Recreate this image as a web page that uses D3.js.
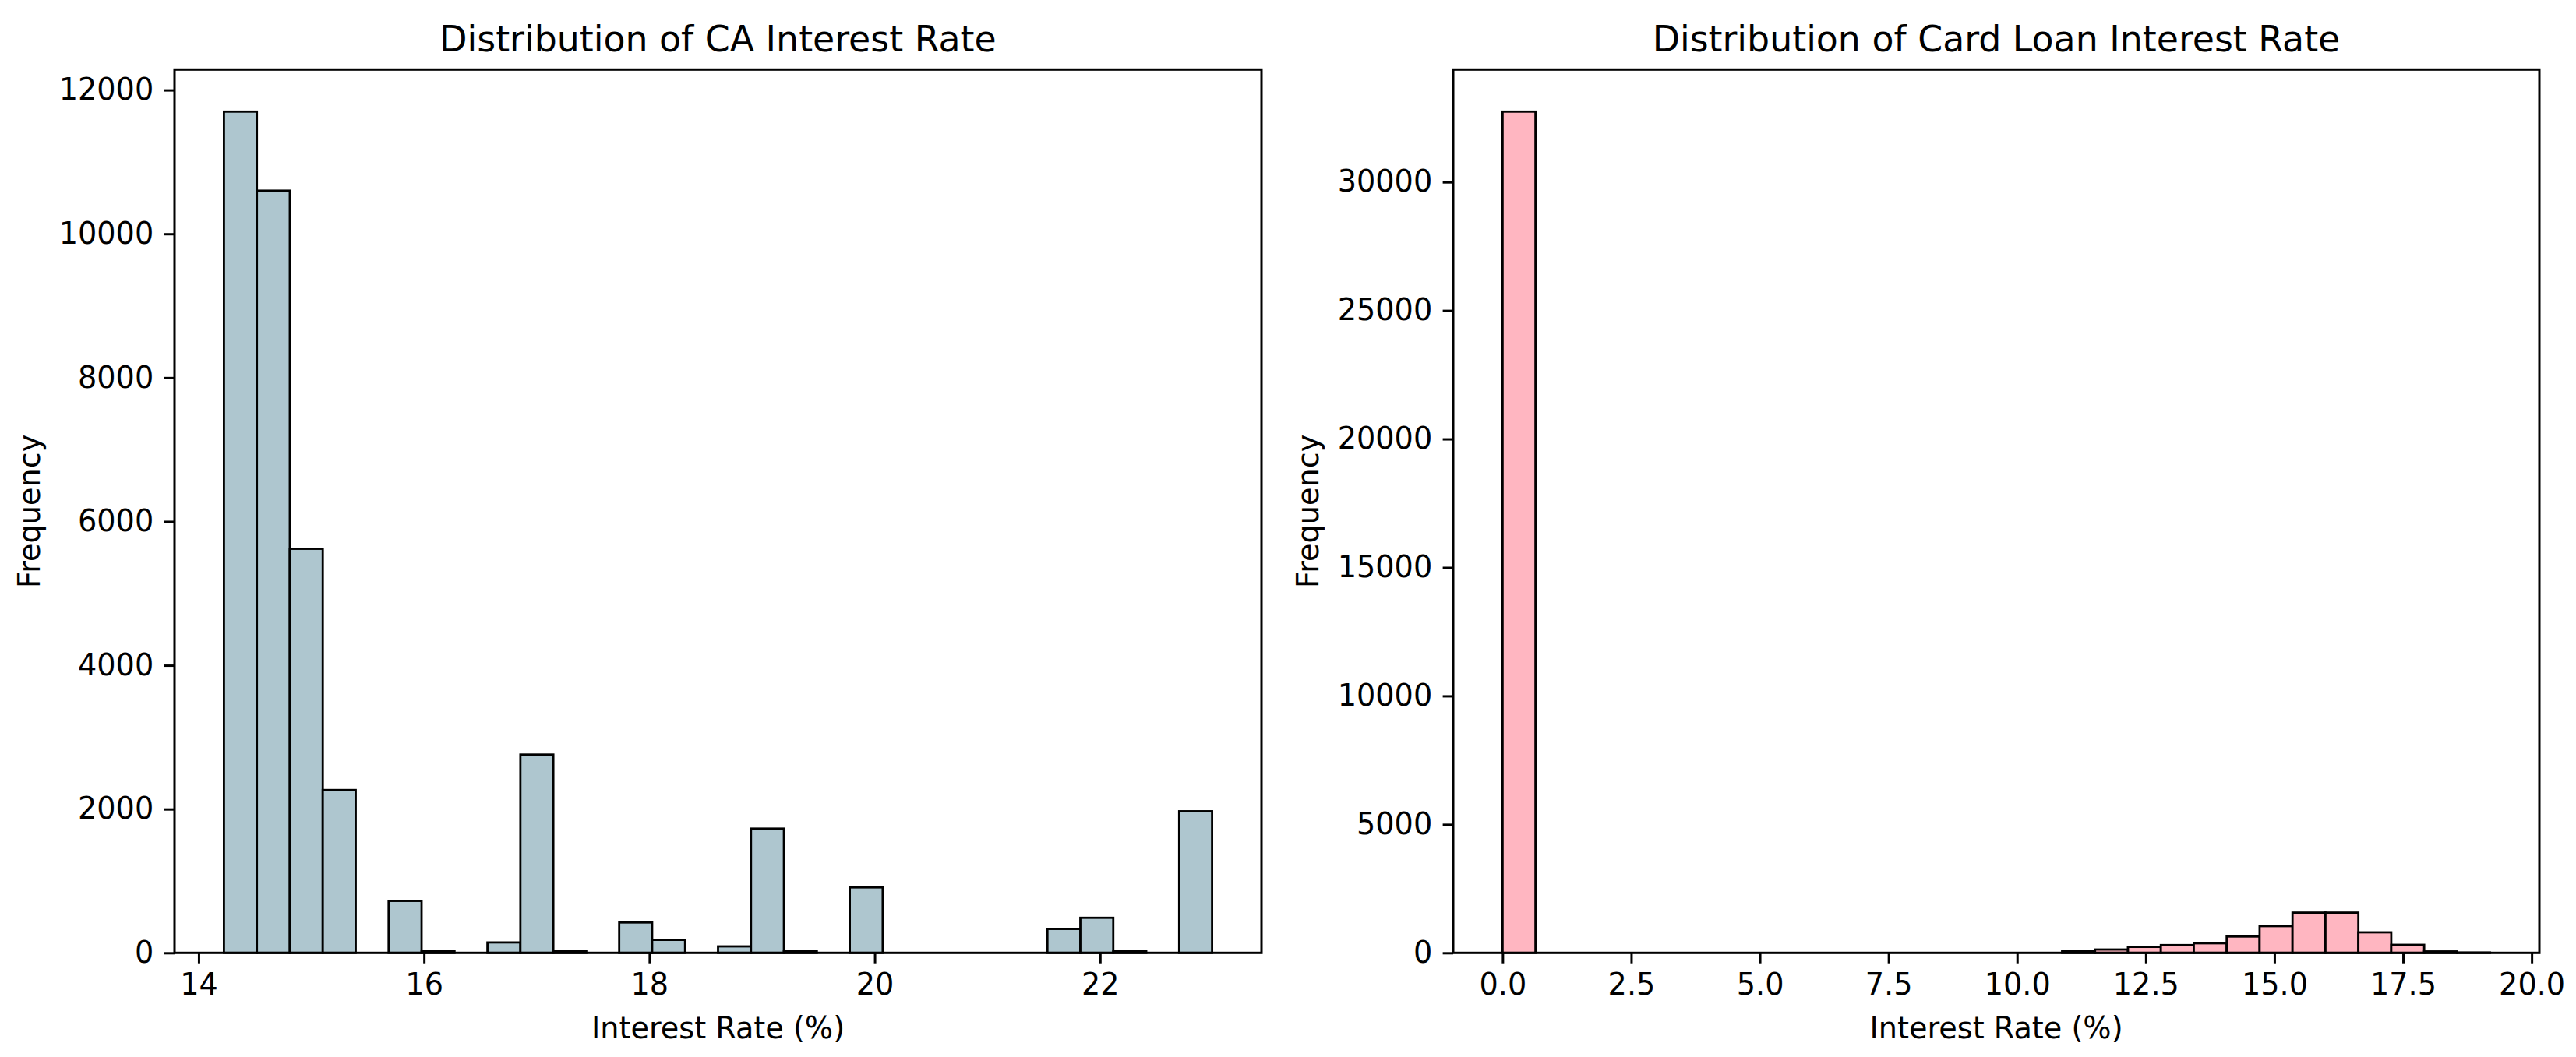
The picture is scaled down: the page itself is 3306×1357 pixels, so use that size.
<!DOCTYPE html>
<html><head><meta charset="utf-8">
<script src="https://cdn.jsdelivr.net/npm/d3@7"></script>
<style>
body{margin:0;background:#fff}
svg{display:block}
text{font-family:"DejaVu Sans",sans-serif;fill:#000}
</style>
</head><body>
<svg id="c" width="3306" height="1357"></svg>
<script>
// ---- data ----
const caTitle = "Distribution of CA Interest Rate";
const cardTitle = "Distribution of Card Loan Interest Rate";
const xLabelText = "Interest Rate (%)";
const yLabelText = "Frequency";

const caRange = [14.2245, 22.9945];
const caCounts = [11700, 10600, 5620, 2265, 0, 723, 25, 0, 145, 2758,
                  25, 0, 423, 181, 0, 90, 1728, 25, 0, 911,
                  0, 0, 0, 0, 0, 333, 488, 25, 0, 1970];
const caXTicks = [14, 16, 18, 20, 22];
const caYTicks = [0, 2000, 4000, 6000, 8000, 10000, 12000];

const cardRange = [0, 19.19];
const cardCounts = [32740, 0, 0, 0, 0, 0, 0, 0, 0, 0,
                    0, 0, 0, 0, 0, 0, 0, 70, 130, 233,
                    303, 374, 637, 1041, 1567, 1567, 799, 313, 55, 12];
const cardXTicks = [0, 2.5, 5, 7.5, 10, 12.5, 15, 17.5, 20];
const cardYTicks = [0, 5000, 10000, 15000, 20000, 25000, 30000];

const caColor = "#AEC6CF";
const cardColor = "#FFB6C1";

// ---- layout ----
const svg = d3.select("#c");
const plotTop = 89.3, plotBottom = 1223.3;
const tickLen = 13.4, tickPad = 13.4, lw = 3;
const fsTick = 38.2, fsTitle = 45.8, fsLabel = 38.2;

function panel(opt) {
  const [lo, hi] = opt.range;
  const n = opt.counts.length;
  const span = hi - lo;
  const edges = d3.range(n + 1).map(i => lo + i * span / n);
  const bins = opt.counts.map((c, i) => ({x0: edges[i], x1: edges[i + 1], c}));
  const x = d3.scaleLinear().domain([lo - 0.05 * span, hi + 0.05 * span]).range([opt.left, opt.right]);
  const y = d3.scaleLinear().domain([0, d3.max(opt.counts) * 1.05]).range([plotBottom, plotTop]);
  const g = svg.append("g");

  g.append("g").selectAll("rect").data(bins).join("rect")
    .attr("x", d => x(d.x0))
    .attr("width", d => x(d.x1) - x(d.x0))
    .attr("y", d => y(d.c))
    .attr("height", d => y(0) - y(d.c))
    .attr("fill", opt.color)
    .attr("stroke", "#000")
    .attr("stroke-width", 2.8);

  const xa = g.append("g").attr("transform", `translate(0,${plotBottom})`)
    .call(d3.axisBottom(x).tickValues(opt.xTicks).tickFormat(opt.xFmt)
      .tickSize(tickLen).tickPadding(tickPad));
  const ya = g.append("g").attr("transform", `translate(${opt.left},0)`)
    .call(d3.axisLeft(y).tickValues(opt.yTicks).tickFormat(d3.format("d"))
      .tickSize(tickLen).tickPadding(tickPad));
  [xa, ya].forEach(a => {
    a.select(".domain").remove();
    a.attr("font-family", null).attr("font-size", null);
    a.selectAll("line").attr("stroke", "#000").attr("stroke-width", lw);
    a.selectAll("text").attr("font-size", fsTick).attr("fill", "#000")
      .style("font-family", '"DejaVu Sans",sans-serif');
  });

  g.append("rect")
    .attr("x", opt.left).attr("y", plotTop)
    .attr("width", opt.right - opt.left).attr("height", plotBottom - plotTop)
    .attr("fill", "none").attr("stroke", "#000").attr("stroke-width", lw);

  const cx = (opt.left + opt.right) / 2;
  g.append("text").attr("x", cx).attr("y", 66).attr("text-anchor", "middle")
    .attr("font-size", fsTitle).text(opt.title);
  g.append("text").attr("x", cx).attr("y", 1333).attr("text-anchor", "middle")
    .attr("font-size", fsLabel).text(xLabelText);
  g.append("text")
    .attr("transform", `translate(${opt.ylabX},${(plotTop + plotBottom) / 2}) rotate(-90)`)
    .attr("text-anchor", "middle").attr("font-size", fsLabel).text(yLabelText);
}

panel({left: 224, right: 1619, range: caRange, counts: caCounts, color: caColor,
       xTicks: caXTicks, yTicks: caYTicks, xFmt: d3.format("d"),
       title: caTitle, ylabX: 51});
panel({left: 1865, right: 3259, range: cardRange, counts: cardCounts, color: cardColor,
       xTicks: cardXTicks, yTicks: cardYTicks, xFmt: d3.format(".1f"),
       title: cardTitle, ylabX: 1692});
</script>
</body></html>
